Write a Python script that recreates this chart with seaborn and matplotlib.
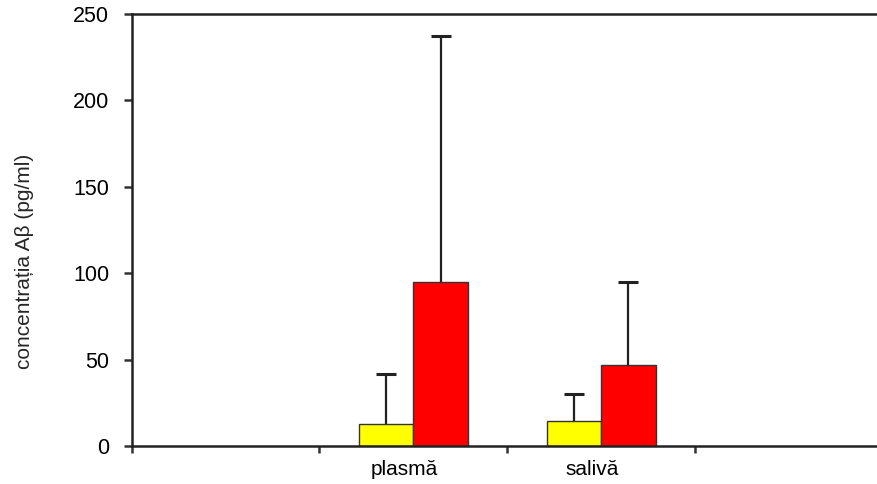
import matplotlib
matplotlib.use("Agg")
import matplotlib.pyplot as plt
import matplotlib.transforms as mtransforms
import seaborn as sns
import pandas as pd
import numpy as np

# data
categories = ["plasmă", "salivă"]
groups = ["A", "B"]
means_A = [13.0, 14.5]      # yellow
means_B = [95.0, 47.0]      # red
sd_A = [28.5, 15.5]
sd_B = [142.0, 48.0]
y_ticks = [0, 50, 100, 150, 200, 250]

sns.set_theme(style="white")
plt.rcParams['font.family'] = ['Liberation Sans', 'DejaVu Sans']

df = pd.DataFrame({
    "cat": categories * 2,
    "grp": [groups[0]] * 2 + [groups[1]] * 2,
    "val": means_A + means_B,
})

fig = plt.figure(figsize=(8.78, 4.84), dpi=100)
ax = fig.add_axes([0.1498, 0.0785, 0.8559, 0.8936])

sns.barplot(data=df, x="cat", y="val", hue="grp", order=categories,
            hue_order=groups, palette=["#FFFF00", "#FF0000"],
            width=0.58, edgecolor="#333333", linewidth=1.0,
            errorbar=None, ax=ax, legend=False, saturation=1, zorder=3)

# error bars (upper only), drawn behind the bars
sds = {groups[0]: sd_A, groups[1]: sd_B}
means = {groups[0]: means_A, groups[1]: means_B}
for container, g in zip(ax.containers, groups):
    xs = [p.get_x() + p.get_width() / 2 for p in container.patches]
    eb = ax.errorbar(xs, means[g], yerr=[np.zeros(len(xs)), sds[g]], fmt="none",
                     ecolor="#222222", elinewidth=1.6, capsize=7, capthick=2.2,
                     zorder=2)
    for cl in eb[1]:
        if np.allclose(cl.get_ydata(), means[g]):
            cl.set_visible(False)

ax.set_xlim(-1.5, 2.5)
ax.set_ylim(0, 250)
ax.set_yticks(y_ticks)
ax.set_yticklabels([str(t) for t in y_ticks])
ax.set_xticks([-1.5, -0.5, 0.5, 1.5, 2.5])
ax.set_xticklabels([])
ax.set_xticks([0, 1], minor=True)
ax.set_xticklabels(categories, minor=True)
ax.tick_params(axis="x", which="major", direction="out", length=5, width=1.8,
               color="#333333", bottom=True)
ax.tick_params(axis="x", which="minor", length=0, pad=10, labelsize=15,
               labelcolor="black")
ax.tick_params(axis="y", direction="out", length=6, width=1.8, color="#333333",
               left=True, pad=10, labelsize=15.5, labelcolor="black")

offset = mtransforms.ScaledTranslation(-9 / 100, 0, fig.dpi_scale_trans)
for lab in ax.get_xticklabels(minor=True):
    lab.set_transform(lab.get_transform() + offset)

ax.set_xlabel("")
ax.set_ylabel("concentrația Aβ (pg/ml)", fontsize=15)
ax.yaxis.set_label_coords(-0.130, 0.428)

for s in ["left", "bottom", "top"]:
    ax.spines[s].set_visible(True)
    ax.spines[s].set_color("#222222")
    ax.spines[s].set_linewidth(1.8)
    ax.spines[s].set_zorder(4)
ax.spines["right"].set_visible(False)

fig.savefig("out.png", dpi=100)
